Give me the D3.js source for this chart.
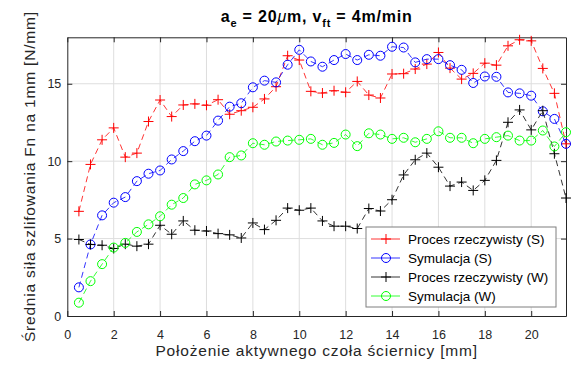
<!DOCTYPE html>
<html>
<head>
<meta charset="utf-8">
<script src="https://cdn.jsdelivr.net/npm/d3@7"></script>
<style>
  body { margin: 0; background: #fff; }
  text { font-family: "Liberation Sans", Arial, sans-serif; }
</style>
</head>
<body>
<script>
// positions along the wheel face [mm]
var positions = [0.5,1,1.5,2,2.5,3,3.5,4,4.5,5,5.5,6,6.5,7,7.5,8,8.5,9,9.5,10,10.5,11,11.5,12,12.5,13,13.5,14,14.5,15,15.5,16,16.5,17,17.5,18,18.5,19,19.5,20,20.5,21,21.5];

var procesS = [6.76,9.79,11.38,12.15,10.26,10.52,12.56,13.95,12.88,13.63,13.70,13.61,13.97,13.03,13.26,13.48,14.02,14.81,16.81,16.53,14.51,14.40,14.55,14.45,15.15,14.27,14.08,15.63,15.65,15.95,16.27,17.02,16.01,15.30,15.67,16.33,16.20,17.45,17.84,17.77,15.99,14.38,11.12];
var symS = [1.85,4.62,6.50,7.32,7.68,8.71,9.19,9.40,10.11,10.65,11.29,11.65,12.62,13.52,13.74,14.77,15.20,15.09,16.23,17.19,16.44,16.10,16.53,16.92,16.53,16.87,16.81,17.39,17.34,16.38,16.59,16.59,16.20,15.90,15.05,15.47,15.45,14.44,14.38,14.23,13.22,12.73,11.12];
var procesW = [4.94,4.62,4.57,4.36,4.64,4.51,4.64,5.86,5.28,6.14,5.54,5.49,5.32,5.24,5.04,6.01,5.58,6.18,6.97,6.83,6.97,6.14,5.80,5.80,5.65,6.94,6.78,7.51,9.11,10.09,10.52,9.61,8.39,8.65,8.11,8.76,10.05,12.51,13.31,12.02,13.26,10.48,7.62];
var symW = [0.86,2.25,3.35,4.42,4.72,5.43,5.92,6.44,7.19,7.62,8.50,8.76,9.14,10.26,10.37,11.16,11.06,11.27,11.33,11.38,11.44,11.06,11.18,11.72,10.97,11.80,11.72,11.44,11.51,11.22,11.44,11.93,11.51,11.51,11.16,11.44,11.55,11.65,11.33,11.33,11.98,10.95,11.87];

var seriesNames = ["Proces rzeczywisty (S)", "Symulacja (S)", "Proces rzeczywisty (W)", "Symulacja (W)"];
var xTicks = [0,2,4,6,8,10,12,14,16,18,20];
var yTicks = [0,5,10,15];

var w = 578, h = 367;
var margin = {left: 67.3, right: 12, top: 37.3, bottom: 51};

var svg = d3.select("body").append("svg")
    .attr("width", w)
    .attr("height", h);

var x = d3.scaleLinear().domain([0, 21.5]).range([margin.left, w - margin.right]);
var y = d3.scaleLinear().domain([0, 18]).range([h - margin.bottom, margin.top]);

// grid
svg.append("g").selectAll("line.vx")
    .data(xTicks.slice(1))
    .enter().append("line")
    .attr("x1", d => x(d)).attr("x2", d => x(d))
    .attr("y1", y(0)).attr("y2", y(18))
    .style("stroke", "#dedede").style("stroke-width", 1);
svg.append("g").selectAll("line.hy")
    .data(yTicks.slice(1))
    .enter().append("line")
    .attr("x1", x(0)).attr("x2", x(21.5))
    .attr("y1", d => y(d)).attr("y2", d => y(d))
    .style("stroke", "#dedede").style("stroke-width", 1);

// axes (ticks inside, box on)
var xAxis = d3.axisBottom(x).tickValues(xTicks).tickSizeInner(-5).tickSizeOuter(0).tickPadding(14);
var yAxis = d3.axisLeft(y).tickValues(yTicks).tickSizeInner(-5).tickSizeOuter(0).tickPadding(6);

var gx = svg.append("g").attr("transform", "translate(0," + y(0) + ")").call(xAxis);
var gy = svg.append("g").attr("transform", "translate(" + x(0) + ",0)").call(yAxis);
var gxt = svg.append("g").attr("transform", "translate(0," + y(18) + ")")
    .call(d3.axisTop(x).tickValues(xTicks).tickSizeInner(-5).tickSizeOuter(0).tickFormat(""));
var gyr = svg.append("g").attr("transform", "translate(" + x(21.5) + ",0)")
    .call(d3.axisRight(y).tickValues(yTicks).tickSizeInner(-5).tickSizeOuter(0).tickFormat(""));

[gx, gy, gxt, gyr].forEach(function(g) {
    g.select(".domain").style("stroke", "#262626");
    g.selectAll(".tick line").style("stroke", "#262626");
    g.selectAll("text").style("font-size", "12.5px").style("fill", "#262626")
        .style("font-family", "'Liberation Sans', Arial, sans-serif");
});

// series
var series = [
    {vals: procesS, color: "#ff0000", marker: "plus"},
    {vals: symS, color: "#0000ff", marker: "circle"},
    {vals: procesW, color: "#000000", marker: "plus"},
    {vals: symW, color: "#00ff00", marker: "circle"}
];

var line = d3.line()
    .x(function(d, i) { return x(positions[i]); })
    .y(function(d) { return y(d); });

function drawMarker(g, kind, color, cx, cy) {
    if (kind === "plus") {
        g.append("path")
            .attr("d", "M" + (cx - 5) + "," + cy + "H" + (cx + 5) + "M" + cx + "," + (cy - 5) + "V" + (cy + 5))
            .style("stroke", color).style("stroke-width", 1).style("fill", "none");
    } else {
        g.append("circle").attr("cx", cx).attr("cy", cy).attr("r", 4.5)
            .style("stroke", color).style("stroke-width", 1).style("fill", "none");
    }
}

series.forEach(function(s) {
    var g = svg.append("g");
    g.append("path")
        .datum(s.vals)
        .attr("d", line)
        .style("fill", "none")
        .style("stroke", s.color)
        .style("stroke-width", 0.8)
        .style("stroke-dasharray", "6,4");
    s.vals.forEach(function(v, i) {
        drawMarker(g, s.marker, s.color, x(positions[i]), y(v));
    });
});

// legend
var lg = svg.append("g").attr("transform", "translate(366,227)");
lg.append("rect").attr("width", 190).attr("height", 80)
    .style("fill", "#fff").style("stroke", "#7f7f7f").style("stroke-width", 1);
series.forEach(function(s, i) {
    var yy = 12 + i * 19;
    lg.append("line").attr("x1", 5).attr("x2", 34).attr("y1", yy).attr("y2", yy)
        .style("stroke", s.color).style("stroke-width", 0.8);
    drawMarker(lg, s.marker, s.color, 20, yy);
    lg.append("text").attr("x", 42).attr("y", yy + 5)
        .style("font-size", "13.5px").style("fill", "#000")
        .text(seriesNames[i]);
});

// title
var title = svg.append("text")
    .attr("x", (x(0) + x(21.5)) / 2)
    .attr("y", 22)
    .attr("text-anchor", "middle")
    .style("font-size", "16px")
    .style("font-weight", "bold")
    .style("letter-spacing", "0.8px")
    .style("fill", "#000");
title.append("tspan").text("a");
title.append("tspan").attr("dy", 5).style("font-size", "11px").text("e");
title.append("tspan").attr("dy", -5).text(" = 20");
title.append("tspan").style("font-style", "italic").style("font-weight", "normal").text("\u03bc");
title.append("tspan").text("m, v");
title.append("tspan").attr("dy", 5).style("font-size", "11px").text("ft");
title.append("tspan").attr("dy", -5).text(" = 4m/min");

// axis labels
svg.append("text")
    .attr("x", (x(0) + x(21.5)) / 2)
    .attr("y", 356)
    .attr("text-anchor", "middle")
    .style("font-size", "15.5px")
    .style("letter-spacing", "0.8px")
    .style("fill", "#262626")
    .text("Położenie aktywnego czoła ściernicy [mm]");

svg.append("text")
    .attr("transform", "translate(35," + ((y(0) + y(18)) / 2) + ") rotate(-90)")
    .attr("text-anchor", "middle")
    .style("font-size", "15.5px")
    .style("letter-spacing", "0.8px")
    .style("fill", "#262626")
    .text("Średnia siła szlifowania Fn na 1mm [N/mm]");
</script>
</body>
</html>
